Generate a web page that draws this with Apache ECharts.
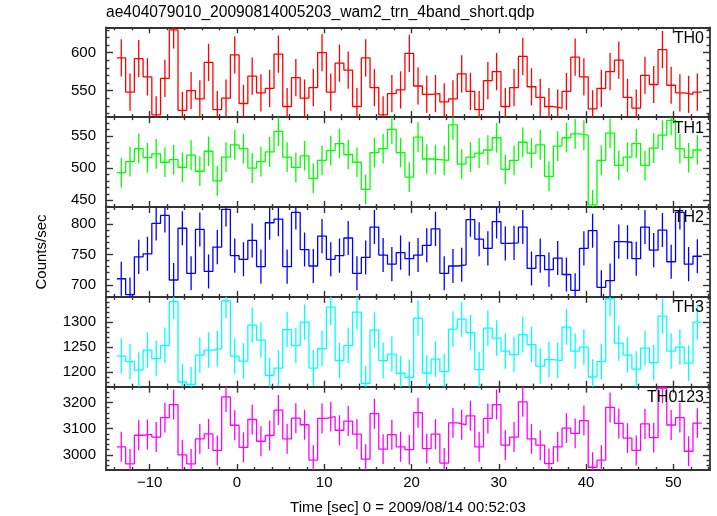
<!DOCTYPE html>
<html><head><meta charset="utf-8">
<script src="https://cdn.jsdelivr.net/npm/echarts@6/dist/echarts.min.js"></script>
<style>html,body{margin:0;padding:0;background:#fff}#c{width:717px;height:516px}</style>
</head><body><div id="c"></div>
<script>
const chartTitle = "ae404079010_20090814005203_wam2_trn_4band_short.qdp";
const xLabel = "Time [sec] 0 = 2009/08/14 00:52:03";
const yLabel = "Counts/sec";

// bin centres (s), bin width 1 s
const time = [-13.25,-12.25,-11.25,-10.25,-9.25,-8.25,-7.25,-6.25,-5.25,-4.25,-3.25,-2.25,-1.25,-0.25,0.75,1.75,2.75,3.75,4.75,5.75,6.75,7.75,8.75,9.75,10.75,11.75,12.75,13.75,14.75,15.75,16.75,17.75,18.75,19.75,20.75,21.75,22.75,23.75,24.75,25.75,26.75,27.75,28.75,29.75,30.75,31.75,32.75,33.75,34.75,35.75,36.75,37.75,38.75,39.75,40.75,41.75,42.75,43.75,44.75,45.75,46.75,47.75,48.75,49.75,50.75,51.75,52.75];
const binHalfWidth = 0.5;

const th0 = [593,548,592,568,518,566,630,524,550,539,587,525,540,597,533,569,547,553,598,529,567,540,554,600,548,586,577,529,593,554,518,546,551,599,556,545,546,535,539,572,549,525,563,575,529,554,595,555,541,529,527,549,594,568,526,553,575,590,541,527,570,558,604,557,547,545,548];
const th1 = [493,510,530,516,522,509,513,501,520,495,526,480,517,536,530,500,510,525,557,517,501,519,484,512,527,538,521,509,467,524,530,560,524,486,548,514,513,512,567,506,517,523,528,547,498,512,540,523,536,487,534,547,553,551,443,512,554,504,517,538,504,531,551,574,530,516,528];
const th2 = [710,684,746,751,801,814,708,793,719,791,722,762,824,748,742,773,730,802,808,730,819,758,731,780,742,748,777,719,745,795,749,734,753,743,749,765,792,719,731,733,807,775,760,804,768,769,795,727,748,725,744,717,691,760,789,696,707,771,770,743,795,757,790,738,819,734,747];
const th3 = [1232,1221,1204,1244,1227,1253,1341,1180,1175,1234,1244,1247,1343,1232,1222,1294,1264,1193,1208,1285,1253,1300,1208,1247,1330,1223,1253,1320,1177,1284,1223,1236,1197,1189,1308,1198,1226,1201,1286,1306,1279,1205,1288,1268,1242,1235,1275,1255,1212,1225,1223,1290,1242,1250,1190,1221,1347,1258,1234,1206,1248,1219,1312,1242,1250,1218,1300];
const th0123 = [3031,2966,3075,3078,3068,3142,3192,3000,2966,3061,3080,3017,3221,3113,3029,3135,3052,3074,3171,3061,3140,3115,2980,3139,3146,3094,3129,3079,2984,3157,3022,3077,3031,3020,3161,3024,3079,2969,3122,3115,3149,3031,3139,3192,3037,3068,3202,3061,3037,2967,3031,3102,3082,3131,2953,2980,3181,3120,3064,3017,3118,3066,3255,3114,3142,3014,3121];

// 1-sigma errors per band
const errTH0 = 24.5, errTH1 = 23, errTH2 = 28, errTH3 = 35.5, errTH0123 = 57;

const panelNames = ["TH0","TH1","TH2","TH3","TH0123"];
const panelValues = [th0, th1, th2, th3, th0123];
const panelErrors = [errTH0, errTH1, errTH2, errTH3, errTH0123];
const panelColors = ["#ff0000","#00ff00","#0000ff","#00ffff","#ff00ff"];

const yRanges = [[515,633.3],[439.6,578.9],[680.3,827.9],[1170.6,1350.6],[2942.5,3260]];
const yTicks = [[550,600],[450,500,550],[700,750,800],[1200,1250,1300],[3000,3100,3200]];
const yMinorStep = [10,10,10,10,20];
const xRange = [-15, 54.2];
const xTicks = [-10,0,10,20,30,40,50];
const xMinorStep = 2;

const FONT = "'Liberation Sans', Arial, Helvetica, sans-serif";
const frame = {color:'#333', width:1.8};
const tickStyle = {color:'#333', width:1.4};

function minorValues(lo, hi, step, majors) {
  const out = [];
  const start = Math.ceil(lo / step) * step;
  for (let v = start; v <= hi + 1e-9; v += step) {
    const r = Math.round(v * 1000) / 1000;
    if (!majors.includes(r)) out.push(r);
  }
  return out;
}
const fmt = v => String(v).replace('-', '\u2212');

const grids = [], xAxes = [], yAxes = [], series = [], graphics = [];
const top0 = 27.3, ph = 89.85;

for (let i = 0; i < 5; i++) {
  const top = top0 + i * ph;
  grids.push({left:106, right:7, top:top, height:ph, containLabel:false});
  const last = (i === 4);
  const xMinor = minorValues(xRange[0], xRange[1], xMinorStep, xTicks);
  const yMinor = minorValues(yRanges[i][0], yRanges[i][1], yMinorStep[i], yTicks[i]);
  const xBase = {gridIndex:i, type:'value', min:xRange[0], max:xRange[1], splitLine:{show:false}};
  const yBase = {gridIndex:i, type:'value', min:yRanges[i][0], max:yRanges[i][1], splitLine:{show:false}, scale:true};
  xAxes.push(Object.assign({}, xBase, {
    position:'bottom',
    axisLine:{show:true, onZero:false, lineStyle:frame},
    axisTick:{show:true, inside:true, length:6, customValues:xTicks, lineStyle:tickStyle},
    axisLabel:{show:last, customValues:xTicks, formatter:fmt, margin:5, fontSize:15, color:'#000', fontFamily:FONT},
    name: last ? xLabel : '', nameLocation:'middle', nameGap:30,
    nameTextStyle:{fontSize:15, color:'#000', fontFamily:FONT}
  }));
  xAxes.push(Object.assign({}, xBase, {
    position:'bottom',
    axisLine:{show:false, onZero:false},
    axisTick:{show:true, inside:true, length:3, customValues:xMinor, lineStyle:tickStyle},
    axisLabel:{show:false}
  }));
  xAxes.push(Object.assign({}, xBase, {
    position:'top',
    axisLine:{show:true, onZero:false, lineStyle:frame},
    axisTick:{show:true, inside:true, length:6, customValues:xTicks, lineStyle:tickStyle},
    axisLabel:{show:false}
  }));
  xAxes.push(Object.assign({}, xBase, {
    position:'top',
    axisLine:{show:false, onZero:false},
    axisTick:{show:true, inside:true, length:3, customValues:xMinor, lineStyle:tickStyle},
    axisLabel:{show:false}
  }));
  yAxes.push(Object.assign({}, yBase, {
    position:'left',
    axisLine:{show:true, onZero:false, lineStyle:frame},
    axisTick:{show:true, inside:true, length:7, customValues:yTicks[i], lineStyle:tickStyle},
    axisLabel:{show:true, customValues:yTicks[i], formatter:v => String(v), margin:10, fontSize:15, color:'#000', fontFamily:FONT}
  }));
  yAxes.push(Object.assign({}, yBase, {
    position:'left',
    axisLine:{show:false, onZero:false},
    axisTick:{show:true, inside:true, length:3.5, customValues:yMinor, lineStyle:tickStyle},
    axisLabel:{show:false}
  }));
  yAxes.push(Object.assign({}, yBase, {
    position:'right',
    axisLine:{show:true, onZero:false, lineStyle:frame},
    axisTick:{show:true, inside:true, length:7, customValues:yTicks[i], lineStyle:tickStyle},
    axisLabel:{show:false}
  }));
  yAxes.push(Object.assign({}, yBase, {
    position:'right',
    axisLine:{show:false, onZero:false},
    axisTick:{show:true, inside:true, length:3.5, customValues:yMinor, lineStyle:tickStyle},
    axisLabel:{show:false}
  }));

  const vals = panelValues[i], err = panelErrors[i], color = panelColors[i];
  const stepData = time.map((t, k) => [t - binHalfWidth, vals[k]]);
  stepData.push([time[time.length - 1] + binHalfWidth, vals[vals.length - 1]]);
  series.push({
    type:'line', xAxisIndex:4*i, yAxisIndex:4*i, data:stepData, step:'end',
    symbol:'none', showSymbol:false, clip:true, silent:true,
    lineStyle:{color:color, width:1.3}, animation:false, z:3
  });
  series.push({
    type:'custom', xAxisIndex:4*i, yAxisIndex:4*i, clip:true, silent:true, animation:false, z:2,
    data: time.map((t, k) => [t, vals[k], err]),
    renderItem: function (params, api) {
      const t = api.value(0), v = api.value(1), e = api.value(2);
      const p1 = api.coord([t, v - e]), p2 = api.coord([t, v + e]);
      return {type:'line', shape:{x1:p1[0], y1:p1[1], x2:p2[0], y2:p2[1]},
              style:{stroke:color, lineWidth:1.3}};
    }
  });
  graphics.push({
    type:'text', right: 717 - 704, top: top + 3, z:10,
    style:{text:panelNames[i], fontSize:16, fill:'#000', fontFamily:FONT}
  });
}

graphics.push({
  type:'text', x:42, y:252, rotation:Math.PI/2,
  style:{text:yLabel, fontSize:15, fill:'#000', fontFamily:FONT, textAlign:'center', textVerticalAlign:'middle'}
});

const chart = echarts.init(document.getElementById('c'), null, {renderer:'canvas'});
chart.setOption({
  animation:false,
  backgroundColor:'#fff',
  title:{text:chartTitle, left:106, top:5, padding:0,
         textStyle:{fontSize:15.6, fontWeight:'normal', color:'#000', fontFamily:FONT}},
  grid:grids, xAxis:xAxes, yAxis:yAxes, series:series, graphic:graphics
});
</script></body></html>
